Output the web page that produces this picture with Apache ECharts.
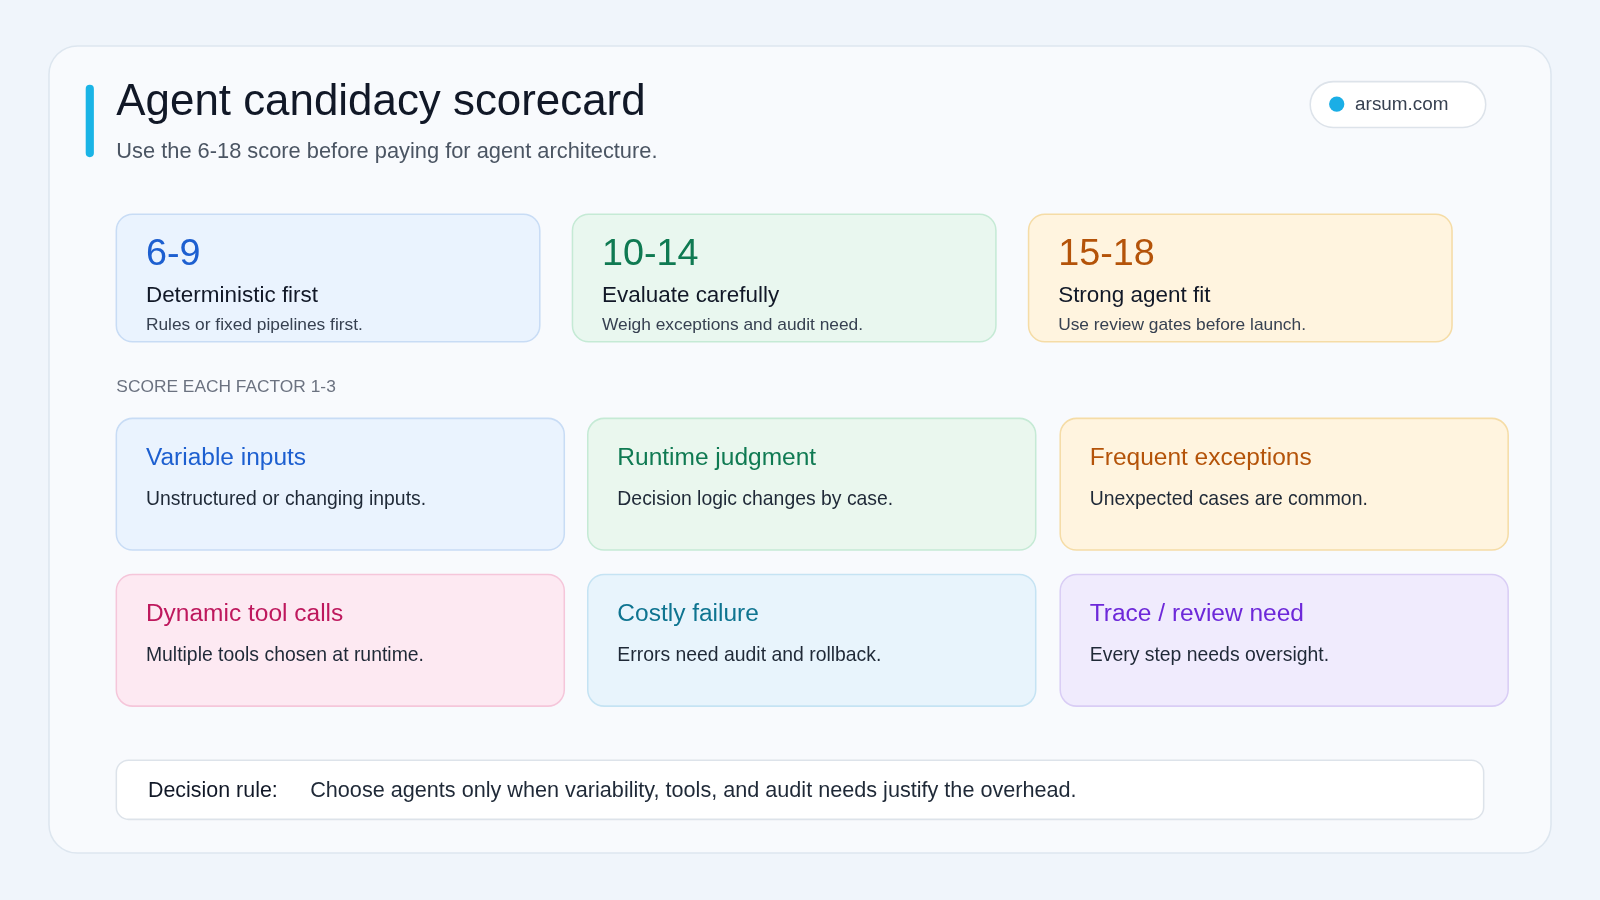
<!DOCTYPE html>
<html><head><meta charset="utf-8">
<script src="https://cdn.jsdelivr.net/npm/echarts@6/dist/echarts.min.js"></script>
<style>html,body{margin:0;padding:0;background:#f0f5fb}#c{width:1600px;height:900px}</style>
</head><body><div id="c"></div>
<script>
const titleText = "Agent candidacy scorecard";
const subtitleText = "Use the 6-18 score before paying for agent architecture.";
const badgeText = "arsum.com";
const rangeLabels = ["6-9", "10-14", "15-18"];
const rangeNames = ["Deterministic first", "Evaluate carefully", "Strong agent fit"];
const rangeDescs = ["Rules or fixed pipelines first.", "Weigh exceptions and audit need.", "Use review gates before launch."];
const sectionLabel = "SCORE EACH FACTOR 1-3";
const factorNames = ["Variable inputs", "Runtime judgment", "Frequent exceptions", "Dynamic tool calls", "Costly failure", "Trace / review need"];
const factorDescs = ["Unstructured or changing inputs.", "Decision logic changes by case.", "Unexpected cases are common.", "Multiple tools chosen at runtime.", "Errors need audit and rollback.", "Every step needs oversight."];
const ruleLabel = "Decision rule:";
const ruleText = "Choose agents only when variability, tools, and audit needs justify the overhead.";

const F = '"Helvetica Neue", "Liberation Sans", Arial, sans-serif';
const rangeStyle = [
  {fill:'#eaf3fe', stroke:'#c8dcf5', color:'#1d5fd0'},
  {fill:'#e9f7ef', stroke:'#c5ead5', color:'#0f7a52'},
  {fill:'#fff4df', stroke:'#f5dca6', color:'#b45309'}
];
const factorStyle = [
  {fill:'#eaf3fe', stroke:'#c8dcf5', color:'#1d5fd0'},
  {fill:'#eaf7ee', stroke:'#c5ead5', color:'#0f7a52'},
  {fill:'#fff4df', stroke:'#f5dca6', color:'#b45309'},
  {fill:'#fde9f2', stroke:'#f5c6da', color:'#be185d'},
  {fill:'#e8f4fc', stroke:'#c5e3f3', color:'#0e7490'},
  {fill:'#f0ebfd', stroke:'#d9cdf5', color:'#6d28d9'}
];
const els = [];
els.push({type:'rect', shape:{x:48,y:45,width:1472,height:791,r:28}, style:{fill:'#f8fafd', stroke:'#dde6ef', lineWidth:1.5}});
els.push({type:'rect', shape:{x:84,y:83,width:8,height:71,r:4}, style:{fill:'#1ab4e6'}});
els.push({type:'text', x:114, y:101, style:{text:titleText, font:'500 43px '+F, fill:'#111827', verticalAlign:'middle'}});
els.push({type:'text', x:114, y:149, style:{text:subtitleText, font:'21.4px '+F, fill:'#4b5563', verticalAlign:'middle'}});
els.push({type:'rect', shape:{x:1284,y:80,width:172,height:45,r:22.5}, style:{fill:'#ffffff', stroke:'#dde3ea', lineWidth:1.5}});
els.push({type:'circle', shape:{cx:1310,cy:102,r:7.5}, style:{fill:'#1aaee6'}});
els.push({type:'text', x:1328, y:103, style:{text:badgeText, font:'18.5px '+F, fill:'#374151', verticalAlign:'middle'}});
const rx = [114, 561, 1008];
rangeLabels.forEach((l,i)=>{
  const s = rangeStyle[i], x = rx[i];
  els.push({type:'rect', shape:{x:x,y:210,width:415,height:125,r:16}, style:{fill:s.fill, stroke:s.stroke, lineWidth:1.5}});
  els.push({type:'text', x:x+29, y:249.5, style:{text:l, font:'500 37px '+F, fill:s.color, verticalAlign:'middle'}});
  els.push({type:'text', x:x+29, y:289.5, style:{text:rangeNames[i], font:'22px '+F, fill:'#111827', verticalAlign:'middle'}});
  els.push({type:'text', x:x+29, y:318.5, style:{text:rangeDescs[i], font:'17px '+F, fill:'#374151', verticalAlign:'middle'}});
});
els.push({type:'text', x:114, y:379, style:{text:sectionLabel, font:'17px '+F, fill:'#6b7280', verticalAlign:'middle'}});
const fx = [114, 576, 1039], fy = [410, 563];
factorNames.forEach((n,i)=>{
  const s = factorStyle[i], x = fx[i%3], y = fy[Math.floor(i/3)];
  els.push({type:'rect', shape:{x:x,y:y,width:439,height:129,r:16}, style:{fill:s.fill, stroke:s.stroke, lineWidth:1.5}});
  els.push({type:'text', x:x+29, y:y+39, style:{text:n, font:'24px '+F, fill:s.color, verticalAlign:'middle'}});
  els.push({type:'text', x:x+29, y:y+80, style:{text:factorDescs[i], font:'19px '+F, fill:'#1f2937', verticalAlign:'middle'}});
});
els.push({type:'rect', shape:{x:114,y:745,width:1340,height:58,r:12}, style:{fill:'#ffffff', stroke:'#dde3ea', lineWidth:1.5}});
els.push({type:'text', x:145, y:775, style:{text:ruleLabel, font:'500 21px '+F, fill:'#111827', verticalAlign:'middle'}});
els.push({type:'text', x:304, y:775, style:{text:ruleText, font:'21.2px '+F, fill:'#1f2937', verticalAlign:'middle'}});

const sc = 1600/1568;
const chart = echarts.init(document.getElementById('c'));
chart.setOption({
  backgroundColor:'#f0f5fb',
  animation:false,
  graphic:[{type:'group', scaleX:sc, scaleY:sc, children:els}]
});
</script></body></html>
